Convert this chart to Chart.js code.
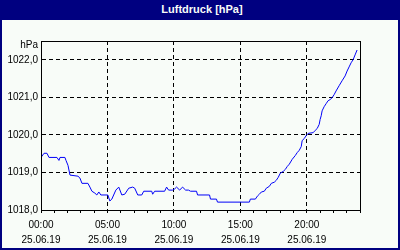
<!DOCTYPE html>
<html><head><meta charset="utf-8">
<script src="https://cdn.jsdelivr.net/npm/chart.js@4"></script>
<style>
html,body{margin:0;padding:0;background:#f8fcf8;}
#frame{position:relative;width:400px;height:250px;background:#000080;overflow:hidden;}
#title{position:absolute;left:0;top:0;width:400px;height:20px;color:#f8fcf8;font:bold 11px "Liberation Sans",Arial,sans-serif;line-height:19px;text-align:center;padding-left:4px;box-sizing:border-box;}
#wrap{position:absolute;left:2px;top:20px;width:396px;height:228px;background:#f8fcf8;}
canvas{display:block;}
</style></head>
<body>
<div id="frame">
  <div id="title">Luftdruck [hPa]</div>
  <div id="wrap"><canvas id="c" width="396" height="228"></canvas></div>
</div>
<script>
const UNIT = 'hPa';
const DATE = '25.06.19';
const xTickHours = [0, 5, 10, 15, 20];
const xTickLabels = ['00:00', '05:00', '10:00', '15:00', '20:00'];
const yMin = 1018, yMax = 1022.5, yStep = 1;
const xMin = 0, xMax = 24;

// time of day in hours
const times = [0.00,0.23,0.45,0.60,1.20,1.35,1.43,1.80,1.88,2.03,2.18,2.78,2.93,3.08,3.53,3.68,3.83,4.05,4.20,4.35,4.50,5.03,5.18,5.33,5.63,5.85,6.08,6.30,6.60,6.90,7.05,7.28,7.58,7.73,8.33,8.40,8.55,9.30,9.45,9.60,9.90,10.05,10.20,10.43,10.65,10.88,11.10,11.25,11.70,11.78,12.68,12.75,13.20,13.28,15.68,15.75,16.13,16.28,16.43,16.58,16.80,16.95,17.18,17.33,17.55,17.70,17.85,18.00,18.23,18.38,18.53,18.68,18.90,19.13,19.28,19.43,19.58,19.65,19.80,19.95,20.10,20.48,20.63,20.78,20.93,21.00,21.08,21.15,21.30,21.45,21.60,21.75,21.90,22.05,22.20,22.43,22.65,22.88,23.03,23.18,23.33,23.48,23.63,23.78];
// air pressure in hPa
const pressure = [1019.40,1019.51,1019.51,1019.40,1019.40,1019.32,1019.40,1019.40,1019.32,1019.19,1018.93,1018.90,1018.85,1018.71,1018.71,1018.61,1018.50,1018.45,1018.40,1018.48,1018.40,1018.40,1018.24,1018.29,1018.53,1018.61,1018.40,1018.42,1018.58,1018.61,1018.58,1018.40,1018.40,1018.50,1018.50,1018.42,1018.50,1018.50,1018.61,1018.53,1018.53,1018.56,1018.61,1018.53,1018.61,1018.53,1018.53,1018.50,1018.50,1018.40,1018.40,1018.29,1018.29,1018.21,1018.21,1018.29,1018.29,1018.37,1018.42,1018.48,1018.50,1018.58,1018.63,1018.71,1018.74,1018.79,1018.87,1018.98,1019.03,1019.08,1019.16,1019.22,1019.35,1019.45,1019.53,1019.59,1019.69,1019.85,1019.90,1019.98,1020.04,1020.06,1020.12,1020.17,1020.28,1020.41,1020.51,1020.64,1020.75,1020.83,1020.91,1020.94,1020.99,1021.07,1021.17,1021.31,1021.44,1021.57,1021.70,1021.81,1021.92,1022.00,1022.13,1022.26];

const FONT = {family: '"Liberation Sans", Arial, sans-serif', size: 10};

const frameBox = {
  id: 'frameBox',
  afterDraw(chart) {
    const {ctx, chartArea: a} = chart;
    ctx.save();
    ctx.strokeStyle = '#000';
    ctx.lineWidth = 1;
    ctx.strokeRect(Math.round(a.left) + 0.5, Math.round(a.top) + 0.5,
                   Math.round(a.right - a.left), Math.round(a.bottom - a.top));
    ctx.fillStyle = '#000';
    ctx.font = '10px "Liberation Sans", Arial, sans-serif';
    ctx.textAlign = 'right';
    ctx.textBaseline = 'middle';
    ctx.fillText(UNIT, a.left - 3, a.top + 4);
    ctx.restore();
  }
};

new Chart(document.getElementById('c'), {
  type: 'line',
  data: {
    datasets: [{
      data: times.map((t, i) => ({x: t, y: pressure[i]})),
      borderColor: '#0000f8',
      borderWidth: 1,
      pointRadius: 0,
      tension: 0,
      fill: false
    }]
  },
  options: {
    responsive: false,
    animation: false,
    events: [],
    layout: {padding: {left: 0, right: 38, top: 21, bottom: 0}},
    plugins: {legend: {display: false}, title: {display: false}, tooltip: {enabled: false}},
    scales: {
      x: {
        type: 'linear', min: xMin, max: xMax,
        afterFit(s) { s.height = 38; },
        ticks: {
          stepSize: 1, autoSkip: false, maxRotation: 0, minRotation: 0,
          color: '#000', font: {...FONT, lineHeight: 1.5}, padding: 5,
          callback(v) {
            const i = xTickHours.indexOf(v);
            return i >= 0 ? [xTickLabels[i], DATE] : '';
          }
        },
        grid: {
          color: c => (c.tick && xTickHours.includes(c.tick.value) && c.tick.value > xMin) ? '#000' : 'rgba(0,0,0,0)',
          tickColor: '#000', tickLength: 3, drawTicks: true, lineWidth: 1
        },
        border: {display: true, color: '#000', width: 1, dash: [4, 3]}
      },
      y: {
        min: yMin, max: yMax,
        afterFit(s) { s.width = 39; },
        ticks: {
          stepSize: yStep, includeBounds: false, color: '#000', font: FONT, padding: 3,
          callback: v => v.toFixed(1).replace('.', ',')
        },
        grid: {
          color: c => (c.tick && c.tick.value > yMin) ? '#000' : 'rgba(0,0,0,0)',
          drawTicks: false, lineWidth: 1
        },
        border: {display: true, color: '#000', width: 1, dash: [4, 3]}
      }
    }
  },
  plugins: [frameBox]
});
</script>
</body></html>
